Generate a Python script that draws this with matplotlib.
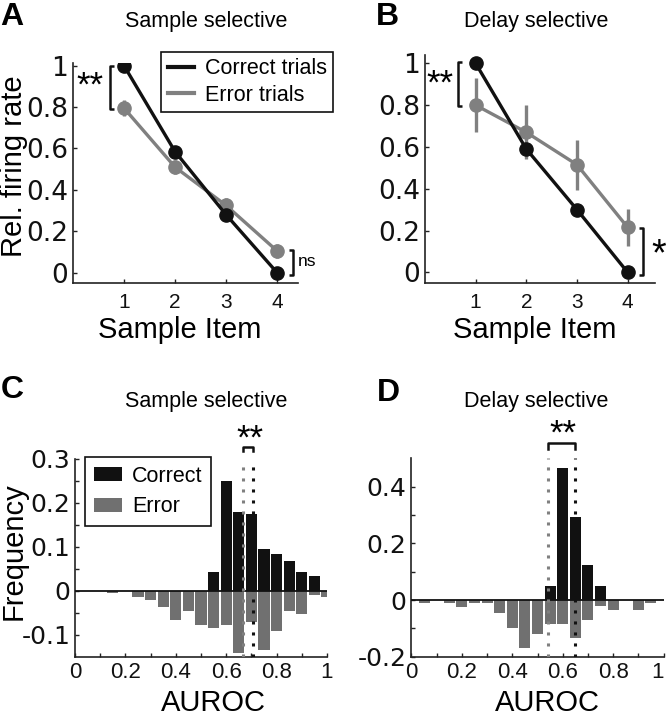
import numpy as np
import matplotlib
matplotlib.use("Agg")
import matplotlib.pyplot as plt
from matplotlib.lines import Line2D

plt.rcParams['font.family'] = ['Liberation Sans', 'DejaVu Sans']

# ---- data ----
items = [1, 2, 3, 4]
a_correct = [1.0, 0.585, 0.28, 0.0]
a_error = [0.795, 0.51, 0.325, 0.105]
a_error_sem = [0.04, 0.035, 0.035, 0.035]

b_correct = [1.0, 0.59, 0.30, 0.0]
b_error = [0.80, 0.67, 0.515, 0.215]
b_error_sem = [0.13, 0.13, 0.12, 0.09]

auroc_bins = [0.05, 0.10, 0.15, 0.20, 0.25, 0.30, 0.35, 0.40, 0.45, 0.50,
              0.55, 0.60, 0.65, 0.70, 0.75, 0.80, 0.85, 0.90, 0.95, 1.00]
c_correct = [0, 0, 0, 0, 0, 0, 0, 0, 0, 0,
             0.044, 0.25, 0.18, 0.175, 0.096, 0.083, 0.0675, 0.043, 0.034, 0]
c_error = [0, 0, 0.004, 0, 0.0145, 0.02, 0.036, 0.067, 0.046, 0.078,
           0.083, 0.078, 0.14, 0.071, 0.134, 0.092, 0.046, 0.052, 0.009, 0.0145]
d_correct = [0, 0, 0, 0, 0, 0, 0, 0, 0, 0,
             0.051, 0.467, 0.292, 0.124, 0.051, 0, 0, 0, 0, 0]
d_error = [0.012, 0, 0.012, 0.024, 0.012, 0.012, 0.047, 0.097, 0.171, 0.120,
           0.083, 0.083, 0.134, 0.071, 0.021, 0.035, 0, 0.035, 0.012, 0]
c_median = {"correct": 0.705, "error": 0.665}
d_median = {"correct": 0.65, "error": 0.54}

BLACK = '#111111'
GREY_LINE = '#808080'
GREY_BAR = '#707070'
W, H = 667, 720

fig = plt.figure(figsize=(W / 100, H / 100), dpi=100)


def rect(l, r, t, b):
    return [l / W, 1 - b / H, (r - l) / W, (b - t) / H]


def style(ax, ytick_size=17, xtick_size=15, xpad=3.5):
    for s in ['top', 'right']:
        ax.spines[s].set_visible(False)
    for s in ['left', 'bottom']:
        ax.spines[s].set_linewidth(1.2)
        ax.spines[s].set_color('#222222')
    ax.tick_params(direction='in', length=3, width=1, colors='#222222')
    ax.tick_params(axis='y', labelsize=ytick_size, labelcolor='#111111')
    ax.tick_params(axis='x', labelsize=xtick_size, labelcolor='#111111', pad=xpad)
    for t in ax.get_yticklabels():
        t.set_family('DejaVu Sans')


def bracket(ax, x, y0, y1, tip):
    ax.plot([x + tip, x, x, x + tip], [y0, y0, y1, y1], color=BLACK, lw=1.8,
            clip_on=False, solid_capstyle='butt')


def line_panel(ax, correct, error, sem, xlim, ylim):
    ax.errorbar(items, error, yerr=sem, color=GREY_LINE, lw=2.4,
                elinewidth=2.4, marker='o', ms=9.5, capsize=0, zorder=2)
    ax.plot(items, correct, color=BLACK, lw=2.4, marker='o', ms=9.5, zorder=3)
    ax.set_xlim(*xlim)
    ax.set_ylim(*ylim)
    ax.set_xticks(items)
    ax.set_yticks([0, 0.2, 0.4, 0.6, 0.8, 1])
    ax.set_yticklabels(['0', '0.2', '0.4', '0.6', '0.8', '1'])
    style(ax, ytick_size=19, xtick_size=15, xpad=7)


# ---- A ----
axA = fig.add_axes(rect(73, 298, 63, 283))
line_panel(axA, a_correct, a_error, a_error_sem, (0, 4.41), (-0.05, 1.013))
bracket(axA, 0.725, 1.0, 0.79, 0.08)
axA.text(0.33, 0.9, '**', fontsize=25, ha='center', va='center')
bracket(axA, 4.31, 0.11, -0.01, -0.08)
axA.text(4.40, 0.055, 'ns', fontsize=12.5, ha='left', va='center', clip_on=False)
handles = [Line2D([], [], color=BLACK, lw=3), Line2D([], [], color=GREY_LINE, lw=3)]
legA = axA.legend(handles, ['Correct trials', 'Error trials'], loc='upper right',
                  bbox_to_anchor=(333 / W, 1 - 52 / H), bbox_transform=fig.transFigure,
                  borderaxespad=0, fancybox=False, edgecolor=BLACK, framealpha=1,
                  fontsize=15.5, handlelength=1.2, handletextpad=0.5, borderpad=0.3,
                  labelspacing=0.25)
legA.get_frame().set_linewidth(1.2)

# ---- B ----
axB = fig.add_axes(rect(425, 655, 55, 283))
line_panel(axB, b_correct, b_error, b_error_sem, (0, 4.54), (-0.051, 1.04))
bracket(axB, 0.65, 1.005, 0.797, 0.08)
axB.text(0.30, 0.9, '**', fontsize=25, ha='center', va='center')
bracket(axB, 4.30, 0.213, -0.011, -0.08)
axB.text(4.62, 0.08, '*', fontsize=27, ha='center', va='center', clip_on=False)


# ---- C / D histograms ----
def hist_panel(ax, correct, error, med, ylim, yticks, yminor):
    centers = np.array(auroc_bins)
    ax.bar(centers, correct, width=0.044, color=BLACK, label='Correct', zorder=2)
    ax.bar(centers, -np.array(error), width=0.044, color=GREY_BAR, label='Error', zorder=2)
    ax.axhline(0, color=BLACK, lw=1.3, zorder=3)
    ax.set_xlim(0, 1)
    ax.set_ylim(*ylim)
    ax.set_xticks([0, 0.2, 0.4, 0.6, 0.8, 1])
    ax.set_xticklabels(['0', '0.2', '0.4', '0.6', '0.8', '1'])
    ax.set_xticks([0.1, 0.3, 0.5, 0.7, 0.9], minor=True)
    ax.set_yticks(yticks)
    ax.set_yticklabels([('%g' % v) for v in yticks])
    ax.set_yticks(yminor, minor=True)
    style(ax, ytick_size=18, xtick_size=16)
    ax.tick_params(which='minor', direction='in', length=3, width=1, colors='#222222')
    ax.plot([med["error"]] * 2, [ylim[0], ylim[1]], color=GREY_LINE, lw=2.2,
            linestyle=(0, (1, 2.6)), zorder=4)
    ax.plot([med["correct"]] * 2, [ylim[0], ylim[1]], color=BLACK, lw=2.2,
            linestyle=(0, (1, 2.6)), zorder=4)


axC = fig.add_axes(rect(75, 327, 459, 657))
hist_panel(axC, c_correct, c_error, c_median, (-0.15, 0.3),
           [-0.1, 0, 0.1, 0.2, 0.3], [-0.05, 0.05, 0.15, 0.25])
ytop_c = 0.327
axC.plot([c_median["error"], c_median["error"], c_median["correct"], c_median["correct"]],
         [ytop_c - 0.009, ytop_c, ytop_c, ytop_c - 0.009], color=BLACK, lw=1.8, clip_on=False)
axC.text(0.694, 0.345, '**', fontsize=25, ha='center', va='center')
legC = axC.legend(loc='upper left', bbox_to_anchor=(85 / W, 1 - 457 / H),
                  bbox_transform=fig.transFigure, borderaxespad=0, fancybox=False,
                  edgecolor=BLACK, framealpha=1, fontsize=15.5, handlelength=1.3,
                  handleheight=0.6, handletextpad=0.5, borderpad=0.4, labelspacing=0.45)
legC.get_frame().set_linewidth(1.2)

axD = fig.add_axes(rect(411.5, 663.5, 458.3, 656.7))
hist_panel(axD, d_correct, d_error, d_median, (-0.2, 0.5),
           [-0.2, 0, 0.2, 0.4], [-0.1, 0.1, 0.3])
axD.get_xticklabels()[-1].set_horizontalalignment('right')
ytop_d = 0.553
axD.plot([d_median["error"], d_median["error"], d_median["correct"], d_median["correct"]],
         [ytop_d - 0.02, ytop_d, ytop_d, ytop_d - 0.02], color=BLACK, lw=1.8, clip_on=False)
axD.text(0.599, 0.585, '**', fontsize=25, ha='center', va='center')

# ---- text: titles, axis labels, panel letters ----
fig.text(206 / W, 1 - 22 / H, 'Sample selective', fontsize=15.5, ha='center', va='center')
fig.text(536 / W, 1 - 22 / H, 'Delay selective', fontsize=15.5, ha='center', va='center')
fig.text(206 / W, 1 - 402 / H, 'Sample selective', fontsize=15.5, ha='center', va='center')
fig.text(536 / W, 1 - 402 / H, 'Delay selective', fontsize=15.5, ha='center', va='center')

fig.text(180 / W, 1 - 330 / H, 'Sample Item', fontsize=21, ha='center', va='center')
fig.text(535 / W, 1 - 330 / H, 'Sample Item', fontsize=21, ha='center', va='center')
fig.text(213 / W, 1 - 703 / H, 'AUROC', fontsize=21, ha='center', va='center')
fig.text(547 / W, 1 - 703 / H, 'AUROC', fontsize=21, ha='center', va='center')
fig.text(14 / W, 1 - 166 / H, 'Rel. firing rate', fontsize=21, rotation=90,
         ha='center', va='center')
fig.text(14 / W, 1 - 551 / H, 'Frequency', fontsize=21, rotation=90,
         ha='center', va='center')

for letter, x, y in [('A', 12, 17), ('B', 387, 17), ('C', 12, 390), ('D', 388, 393)]:
    fig.text(x / W, 1 - y / H, letter, fontsize=23, fontweight='bold',
             ha='center', va='center')

fig.savefig('out.png', dpi=100)
